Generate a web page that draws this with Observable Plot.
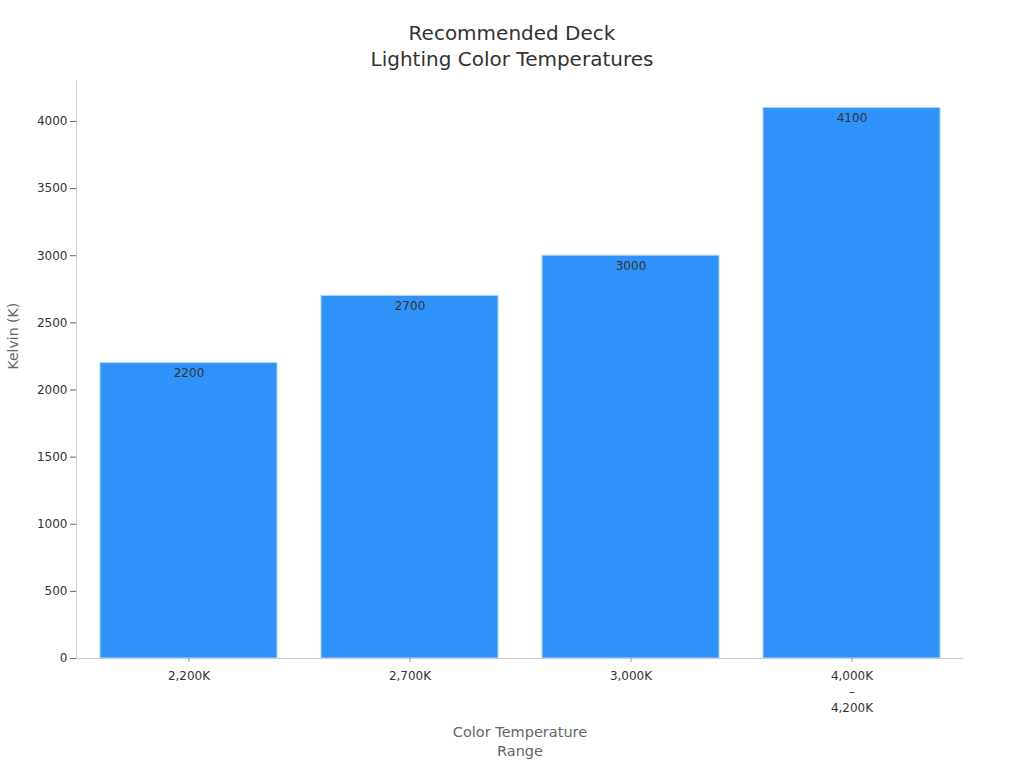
<!DOCTYPE html>
<html>
<head>
<meta charset="utf-8">
<script src="https://cdn.jsdelivr.net/npm/d3@7"></script>
<script src="https://cdn.jsdelivr.net/npm/@observablehq/plot@0.6"></script>
<style>
  body { margin: 0; background: #fff; font-family: "DejaVu Sans", sans-serif; }
  #title { height: 72px; text-align: center; color: #333; font-size: 20px; line-height: 26px; padding-top: 20px; box-sizing: border-box; }
  svg { display: block; }
</style>
</head>
<body>
<div id="title">Recommended Deck<br>Lighting Color Temperatures</div>
<div id="chart"></div>
<script>
const categories = ["2,200K", "2,700K", "3,000K", "4,000K\n–\n4,200K"];
const values = [2200, 2700, 3000, 4100];
const yTicks = [0, 500, 1000, 1500, 2000, 2500, 3000, 3500, 4000];
const xLabel = "Color Temperature\nRange";
const yLabel = "Kelvin (K)";

const data = categories.map((c, i) => ({category: c, value: values[i]}));

const chart = Plot.plot({
  width: 1024,
  height: 696,
  marginTop: 8,
  marginBottom: 110,
  marginLeft: 76,
  marginRight: 61,
  style: {fontFamily: "DejaVu Sans, sans-serif", fontSize: "12px", color: "#333"},
  x: {domain: categories, paddingInner: 0.2, paddingOuter: 0.1},
  y: {domain: [0, 4305]},
  marks: [
    Plot.barY(data, {x: "category", y: "value", fill: "#2f93fa", stroke: "#a9d2fb", strokeWidth: 1}),
    Plot.text(data, {x: "category", y: "value", text: d => String(d.value), dy: 10, fill: "#333", fontSize: 12}),
    Plot.ruleY([0], {stroke: "#ccc"}),
    Plot.frame({anchor: "left", stroke: "#ccc"}),
    Plot.axisY({ticks: yTicks, tickFormat: d3.format("d"), tickSize: 6, tickPadding: 3, label: null, stroke: "#666", fill: "#333", fontSize: 12}),
    Plot.axisX({tickSize: 4, tickPadding: 6, label: null, lineHeight: 1.33, stroke: "#999", fill: "#333", fontSize: 12}),
    Plot.text([xLabel], {frameAnchor: "bottom", dy: 97, text: d => d, fill: "#666", fontSize: 14.5, lineHeight: 1.25}),
    Plot.text([yLabel], {frameAnchor: "left", dx: -63, rotate: -90, text: d => d, fill: "#666", fontSize: 14})
  ]
});
document.getElementById("chart").append(chart);
</script>
</body>
</html>
